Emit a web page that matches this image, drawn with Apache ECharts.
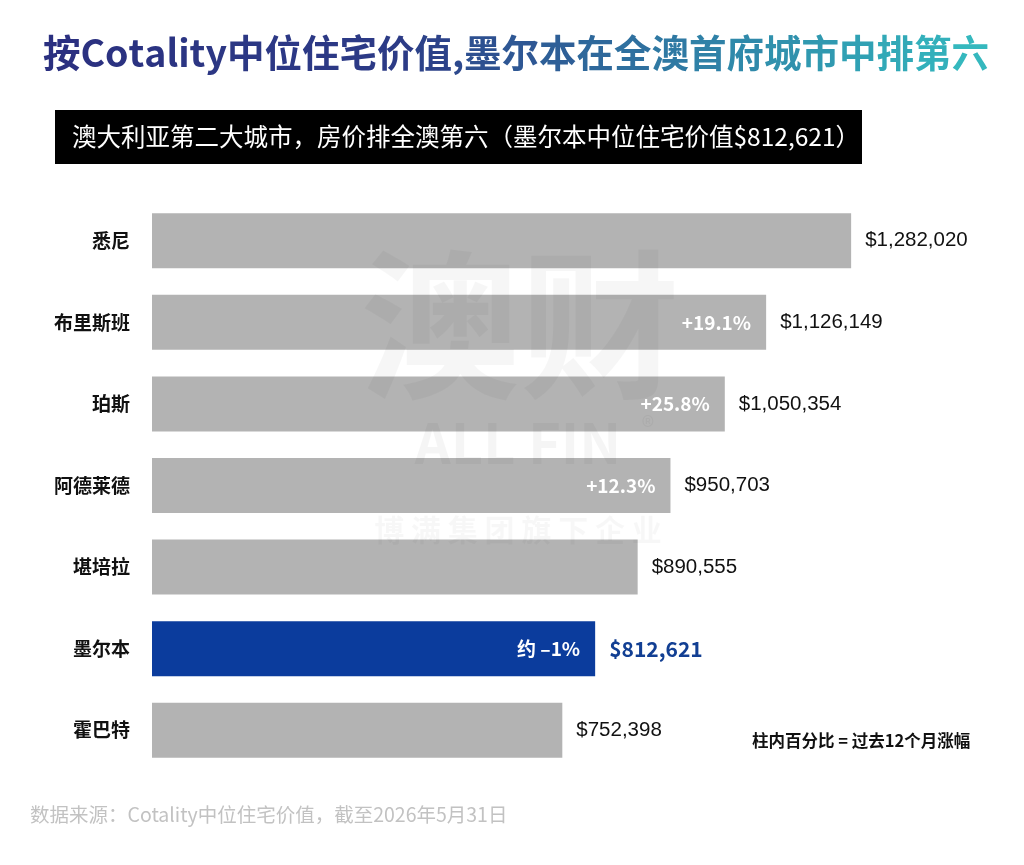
<!DOCTYPE html>
<html>
<head>
<meta charset="utf-8">
<script src="https://cdn.jsdelivr.net/npm/echarts@6/dist/echarts.min.js"></script>
<style>
  html, body { margin: 0; padding: 0; background: #ffffff; }
  #main { width: 1024px; height: 865px; }
</style>
</head>
<body>
<div id="main"></div>
<script>
// data
var cities = ['悉尼', '布里斯班', '珀斯', '阿德莱德', '堪培拉', '墨尔本', '霍巴特'];
var medianValues = [1282020, 1126149, 1050354, 950703, 890555, 812621, 752398];
var changeLabels = ['', '+19.1%', '+25.8%', '+12.3%', '', '约 –1%', ''];
var highlightCity = '墨尔本';

var titleText = '按Cotality中位住宅价值,墨尔本在全澳首府城市中排第六';

var dom = document.getElementById("main");
var myChart = echarts.init(dom);
var option;

var cjk = '"Noto Sans CJK SC", "Noto Sans", sans-serif';

function fmtMoney(v) {
    return '$' + v.toString().replace(/\B(?=(\d{3})+(?!\d))/g, ',');
}

// canvas text can't take a gradient fill, so colour the title char by char
var titleStops = [
    [0, [43, 48, 128]],
    [0.45, [44, 59, 134]],
    [0.6, [46, 90, 149]],
    [0.75, [47, 127, 166]],
    [0.9, [48, 162, 180]],
    [1, [53, 184, 190]]
];
function stopColor(t) {
    for (var i = 1; i < titleStops.length; i++) {
        var a = titleStops[i - 1], b = titleStops[i];
        if (t <= b[0]) {
            var k = (t - a[0]) / (b[0] - a[0]);
            var c = a[1].map(function (x, j) { return Math.round(x + (b[1][j] - x) * k); });
            return 'rgb(' + c.join(',') + ')';
        }
    }
    return 'rgb(' + titleStops[titleStops.length - 1][1].join(',') + ')';
}
var titleChars = titleText.split('');
var titleRich = {};
var titleRichText = titleChars.map(function (ch, i) {
    var key = 'c' + i;
    titleRich[key] = {
        fill: stopColor(i / (titleChars.length - 1)),
        font: 'bold 37.5px ' + cjk
    };
    return '{' + key + '|' + ch + '}';
}).join('');

var barData = medianValues.map(function (v, i) {
    var hl = cities[i] === highlightCity;
    return {
        value: v,
        itemStyle: { color: hl ? '#0b3c9d' : '#b3b3b3' }
    };
});

var valueLabelData = medianValues.map(function (v, i) {
    var hl = cities[i] === highlightCity;
    return {
        value: v,
        label: hl ? {
            color: '#123f93',
            fontWeight: 'bold',
            fontSize: 21,
            fontFamily: cjk
        } : {}
    };
});

option = {
    backgroundColor: '#ffffff',
    animation: false,
    grid: {
        left: 152,
        right: 24,
        top: 200,
        bottom: 94,
        containLabel: false
    },
    xAxis: {
        type: 'value',
        min: 0,
        max: 1555000,
        show: false
    },
    yAxis: {
        type: 'category',
        inverse: true,
        data: cities,
        axisLine: { show: false },
        axisTick: { show: false },
        axisLabel: {
            margin: 22,
            color: '#111111',
            fontSize: 19,
            fontWeight: 'bold',
            fontFamily: cjk
        }
    },
    series: [
        {
            name: '中位住宅价值',
            type: 'bar',
            barWidth: 55,
            data: barData,
            z: 2,
            label: {
                show: true,
                position: 'insideRight',
                distance: 15,
                color: '#ffffff',
                fontSize: 19,
                fontWeight: 'bold',
                fontFamily: cjk,
                formatter: function (p) {
                    return changeLabels[p.dataIndex];
                }
            }
        },
        {
            name: '数值',
            type: 'bar',
            barWidth: 55,
            barGap: '-100%',
            data: valueLabelData,
            itemStyle: { color: 'rgba(0,0,0,0)' },
            silent: true,
            z: 3,
            label: {
                show: true,
                position: 'right',
                distance: 14,
                color: '#111111',
                fontSize: 20.5,
                fontFamily: '"Liberation Sans", Arial, sans-serif',
                formatter: function (p) {
                    return fmtMoney(p.value);
                }
            }
        }
    ],
    graphic: [
        {
            type: 'text',
            x: 516,
            y: 53,
            style: {
                text: titleRichText,
                rich: titleRich,
                font: 'bold 37.5px ' + cjk,
                align: 'center',
                verticalAlign: 'middle'
            }
        },
        {
            type: 'rect',
            shape: { x: 55, y: 110, width: 807, height: 54 },
            style: { fill: '#000000' }
        },
        {
            type: 'text',
            x: 72,
            y: 137,
            style: {
                text: '澳大利亚第二大城市，房价排全澳第六（墨尔本中位住宅价值$812,621）',
                font: '24.5px ' + cjk,
                fill: '#ffffff',
                verticalAlign: 'middle'
            }
        },
        // watermark
        {
            type: 'text',
            x: 520,
            y: 325,
            z: 10,
            style: {
                text: '澳财',
                font: 'bold 160px ' + cjk,
                fill: 'rgba(0,0,0,0.035)',
                align: 'center',
                verticalAlign: 'middle'
            }
        },
        {
            type: 'text',
            x: 518,
            y: 443,
            z: 10,
            style: {
                text: 'ALL FIN',
                font: 'bold 56px ' + cjk,
                fill: 'rgba(0,0,0,0.04)',
                align: 'center',
                verticalAlign: 'middle'
            }
        },
        {
            type: 'text',
            x: 648,
            y: 426,
            z: 10,
            style: {
                text: '®',
                font: '26px ' + cjk,
                fill: 'rgba(0,0,0,0.04)',
                align: 'center',
                verticalAlign: 'middle'
            }
        },
        {
            type: 'text',
            x: 518,
            y: 530,
            z: 10,
            style: {
                text: '博 满 集 团 旗 下 企 业',
                font: 'bold 30px ' + cjk,
                fill: 'rgba(0,0,0,0.03)',
                align: 'center',
                verticalAlign: 'middle'
            }
        },
        // notes
        {
            type: 'text',
            x: 752,
            y: 741,
            style: {
                text: '柱内百分比 = 过去12个月涨幅',
                font: 'bold 16.5px ' + cjk,
                fill: '#111111',
                verticalAlign: 'middle'
            }
        },
        {
            type: 'text',
            x: 30,
            y: 815,
            style: {
                text: '数据来源：Cotality中位住宅价值，截至2026年5月31日',
                font: '19.5px ' + cjk,
                fill: '#c2c2c2',
                verticalAlign: 'middle'
            }
        }
    ]
};

if (option && typeof option === 'object') {
    myChart.setOption(option);
}
</script>
</body>
</html>
